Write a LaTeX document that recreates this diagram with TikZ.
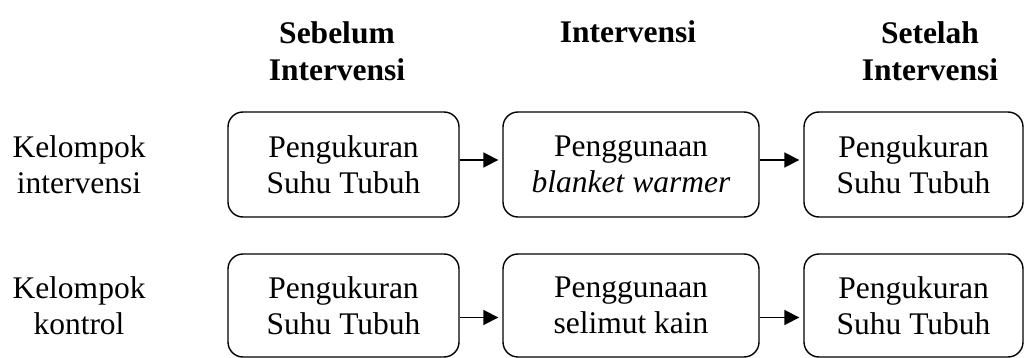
\documentclass[tikz,border=0pt]{standalone}
\usepackage{fontspec}
\setmainfont{Liberation Serif}
\usetikzlibrary{arrows.meta}
\begin{document}
\begin{tikzpicture}[x=1pt,y=-1pt,
  box/.style={draw, line width=1.4pt, rounded corners=15pt, inner sep=0pt, align=center, font=\fontsize{31.5}{36}\selectfont},
  lbl/.style={align=center, inner sep=0pt, font=\fontsize{31.5}{36}\selectfont},
  hdr/.style={align=center, inner sep=0pt, font=\fontsize{31.5}{37}\selectfont\bfseries},
  arr/.style={line width=1.8pt, -{Triangle[length=15pt,width=15pt]}, shorten >=4pt}]
\useasboundingbox (0,0) rectangle (1025,358);
% headers
\node[hdr] (h1) at (337,50.8) {Sebelum\\Intervensi};
\node[hdr, anchor=base] (h2) at (628,43) {Intervensi};
\node[hdr] (h3) at (930,50.8) {Setelah\\Intervensi};
% row labels
\node[lbl] (l1) at (79,164.5) {Kelompok\\intervensi};
\node[lbl] (l2) at (79,306) {Kelompok\\kontrol};
% row 1
\node[box, minimum width=231pt, minimum height=105pt] (b11) at (343.5,164.5) {Pengukuran\\Suhu Tubuh};
\node[box, minimum width=256pt, minimum height=105pt] (b12) at (631,164.5) {Penggunaan\\\textit{blanket warmer}};
\node[box, minimum width=219pt, minimum height=105pt] (b13) at (913.5,164.5) {Pengukuran\\Suhu Tubuh};
% row 2
\node[box, minimum width=231pt, minimum height=103pt] (b21) at (343.5,305.5) {Pengukuran\\Suhu Tubuh};
\node[box, minimum width=256pt, minimum height=103pt] (b22) at (631,305.5) {Penggunaan\\selimut kain};
\node[box, minimum width=219pt, minimum height=103pt] (b23) at (913.5,305.5) {Pengukuran\\Suhu Tubuh};
% arrows
\draw[arr] ([yshift=4.5pt]b11.east) -- ([yshift=4.5pt]b12.west);
\draw[arr] ([yshift=4.5pt]b12.east) -- ([yshift=4.5pt]b13.west);
\draw[arr] ([yshift=-12pt]b21.east) -- ([yshift=-12pt]b22.west);
\draw[arr] ([yshift=-12pt]b22.east) -- ([yshift=-12pt]b23.west);
\end{tikzpicture}
\end{document}
